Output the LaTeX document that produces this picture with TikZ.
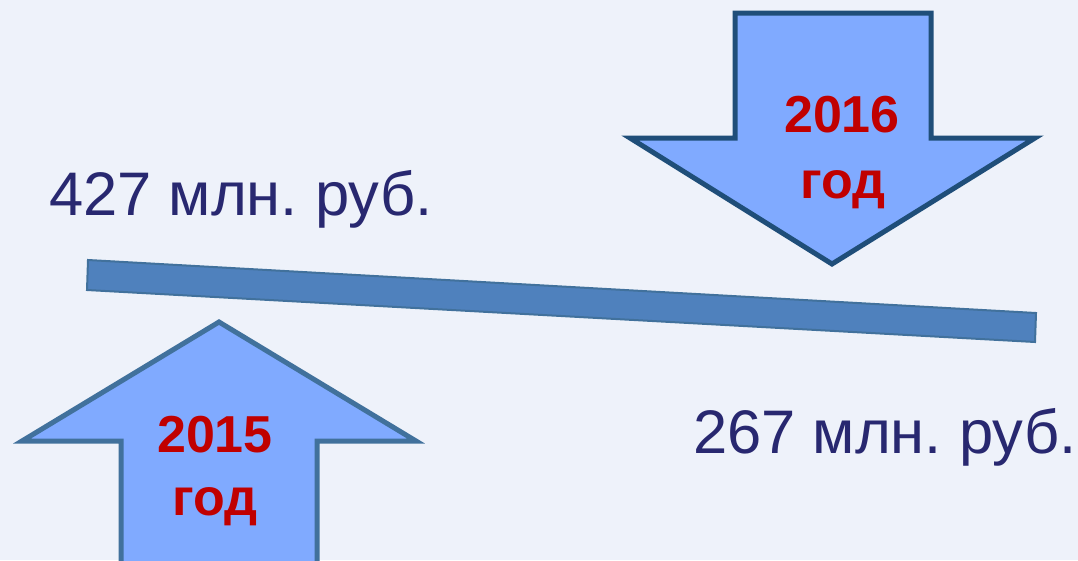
\documentclass[tikz,border=0pt]{standalone}
\usepackage{fontspec}
\setmainfont{Liberation Sans}
\usepackage{tikz}
\usetikzlibrary{positioning}

\definecolor{bgcol}{RGB}{238,242,250}
\definecolor{barfill}{RGB}{79,129,189}
\definecolor{barline}{RGB}{65,113,156}
\definecolor{arrfill}{RGB}{128,170,255}
\definecolor{darkline}{RGB}{31,78,121}
\definecolor{sumcol}{RGB}{40,40,112}
\definecolor{yearcol}{RGB}{192,0,0}

\begin{document}
\frenchspacing
\begin{tikzpicture}[x=1pt,y=-1pt,
    sum/.style={text=sumcol,font=\fontsize{61.5}{68}\selectfont,inner sep=0pt,anchor=base west},
    year/.style={text=yearcol,font=\fontsize{52}{60}\selectfont\bfseries,inner sep=0pt,anchor=base},
    arr/.style={fill=arrfill,line width=5pt,line join=miter}]

    % Background
    \fill[bgcol] (0,0) rectangle (1078,560);
    \useasboundingbox (0,0) rectangle (1078,560);

    % The bar
    \draw[fill=barfill,draw=barline,line width=2pt] (88,260) -- (1036,313) -- (1035,342) -- (87,290) -- cycle;

    % Arrows
    \draw[arr,draw=darkline] (735,13) -- (931,13) -- (931,138) -- (1035,138) -- (832,264) -- (630,138) -- (735,138) -- cycle;
    \draw[arr,draw=barline] (121,575) -- (121,441) -- (22,441) -- (219,322) -- (416,441) -- (317,441) -- (317,575) -- cycle;

    % Labels
    \node[sum] at (49,215) (s2015) {427 млн. руб.};
    \node[sum] at (693,453) (s2016) {267 млн. руб.};
    \node[year] at (842,132) (y2016) {2016};
    \node[year] at (843,198) (g2016) {год};
    \node[year] at (215,452) (y2015) {2015};
    \node[year] at (215,515) (g2015) {год};
\end{tikzpicture}
\end{document}
